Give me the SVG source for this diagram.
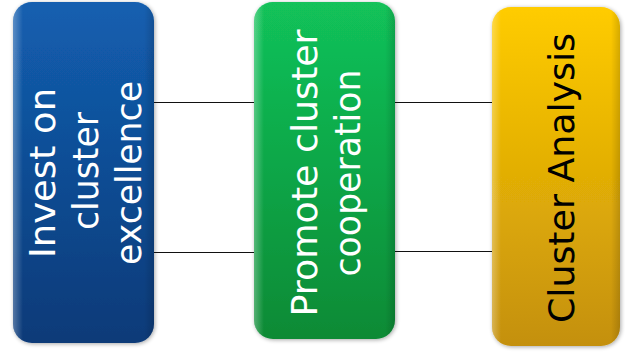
<svg xmlns="http://www.w3.org/2000/svg" width="625" height="356" viewBox="0 0 625 356">
<defs>
<linearGradient id="gBlue" x1="0" y1="0" x2="0" y2="1">
<stop offset="0" stop-color="#135fb0"/><stop offset="1" stop-color="#0b3a78"/>
</linearGradient>
<linearGradient id="gGreen" x1="0" y1="0" x2="0" y2="1">
<stop offset="0" stop-color="#12c25a"/><stop offset="1" stop-color="#0a8a35"/>
</linearGradient>
<linearGradient id="gYellow" x1="0" y1="0" x2="0" y2="1">
<stop offset="0" stop-color="#ffcc00"/><stop offset="1" stop-color="#c4900c"/>
</linearGradient>
<linearGradient id="gEdge" x1="0" y1="0" x2="1" y2="0">
<stop offset="0" stop-color="#ffffff" stop-opacity="0.3"/><stop offset="0.07" stop-color="#ffffff" stop-opacity="0"/>
<stop offset="0.93" stop-color="#000000" stop-opacity="0"/><stop offset="1" stop-color="#000000" stop-opacity="0.15"/>
</linearGradient>
<filter id="sh" x="-10%" y="-10%" width="120%" height="120%">
<feGaussianBlur in="SourceAlpha" stdDeviation="2"/><feOffset dx="1" dy="1"/>
<feComponentTransfer><feFuncA type="linear" slope="0.35"/></feComponentTransfer>
<feMerge><feMergeNode/><feMergeNode in="SourceGraphic"/></feMerge>
</filter>
</defs>
<style>
.lbl{font-family:"DejaVu Sans","Verdana",sans-serif;font-size:36px;text-anchor:middle}
.w{fill:#ffffff}
.k{fill:#000000}
.conn line{stroke:#111111;stroke-width:1.2}
</style>
<rect width="625" height="356" fill="#ffffff"/>
<g class="conn" id="connectors">
<line x1="154" y1="102.5" x2="255" y2="102.5"/>
<line x1="154" y1="252.5" x2="255" y2="252.5"/>
<line x1="394" y1="102.5" x2="493" y2="102.5"/>
<line x1="394" y1="251.5" x2="493" y2="251.5"/>
</g>
<g id="node-invest">
<rect x="13" y="2" width="141" height="341" rx="19" fill="url(#gBlue)" filter="url(#sh)"/>
<rect x="13" y="2" width="141" height="341" rx="19" fill="url(#gEdge)"/>
<text class="lbl w" transform="translate(55,173) rotate(-90)" textLength="170" lengthAdjust="spacingAndGlyphs">Invest on</text>
<text class="lbl w" transform="translate(98,171) rotate(-90)" textLength="118" lengthAdjust="spacingAndGlyphs">cluster</text>
<text class="lbl w" transform="translate(141,173) rotate(-90)" textLength="184" lengthAdjust="spacingAndGlyphs">excellence</text>
</g>
<g id="node-promote">
<rect x="254" y="2" width="141" height="337" rx="19" fill="url(#gGreen)" filter="url(#sh)"/>
<rect x="254" y="2" width="141" height="337" rx="19" fill="url(#gEdge)"/>
<text class="lbl w" transform="translate(317,173) rotate(-90)" textLength="287" lengthAdjust="spacingAndGlyphs">Promote cluster</text>
<text class="lbl w" transform="translate(360,173) rotate(-90)" textLength="207" lengthAdjust="spacingAndGlyphs">cooperation</text>
</g>
<g id="node-analysis">
<rect x="492" y="7" width="128" height="339" rx="19" fill="url(#gYellow)" filter="url(#sh)"/>
<rect x="492" y="7" width="128" height="339" rx="19" fill="url(#gEdge)"/>
<text class="lbl k" transform="translate(574,178) rotate(-90)" textLength="290" lengthAdjust="spacingAndGlyphs">Cluster Analysis</text>
</g>
</svg>
